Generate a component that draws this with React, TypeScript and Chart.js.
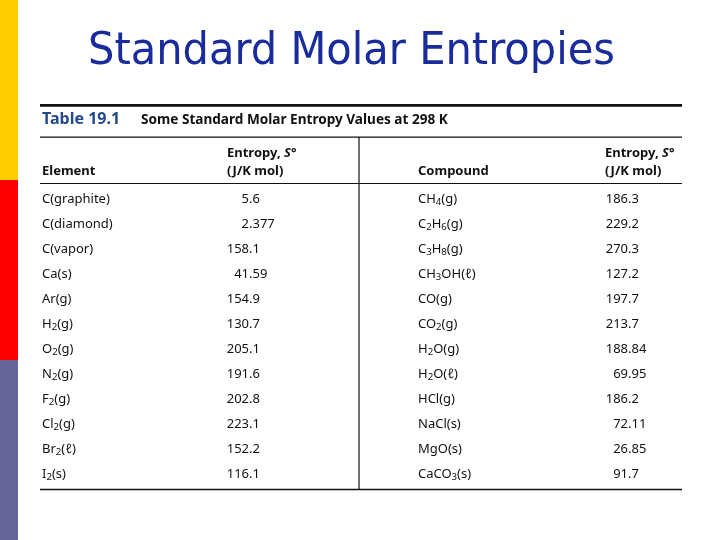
import React, { useEffect, useRef } from "react";
import { Chart, registerables } from "chart.js";

Chart.register(...registerables);

// ---------- content ----------
const TITLE = "Standard Molar Entropies";
const TABLE_LABEL = "Table 19.1";
const TABLE_CAPTION = "Some Standard Molar Entropy Values at 298 K";
const ELEMENT_HEADER = "Element";
const COMPOUND_HEADER = "Compound";
const ENTROPY_HEADER_1 = ["Entropy, ", "S", "°"];
const ENTROPY_HEADER_2 = "(J/K mol)";

// digits inside formulas are drawn as subscripts
const elements = [
  "C(graphite)", "C(diamond)", "C(vapor)", "Ca(s)", "Ar(g)", "H2(g)",
  "O2(g)", "N2(g)", "F2(g)", "Cl2(g)", "Br2(ℓ)", "I2(s)",
];
const elementEntropy = [5.6, 2.377, 158.1, 41.59, 154.9, 130.7, 205.1, 191.6, 202.8, 223.1, 152.2, 116.1];

const compounds = [
  "CH4(g)", "C2H6(g)", "C3H8(g)", "CH3OH(ℓ)", "CO(g)", "CO2(g)",
  "H2O(g)", "H2O(ℓ)", "HCl(g)", "NaCl(s)", "MgO(s)", "CaCO3(s)",
];
const compoundEntropy = [186.3, 229.2, 270.3, 127.2, 197.7, 213.7, 188.84, 69.95, 186.2, 72.11, 26.85, 91.7];

// ---------- layout (x in px from the table's left rule, y in row units) ----------
const TABLE_WIDTH = 642;
const COLS = { elementName: 2, caption: 101, elementValue: 209, entropyHead1: 187, divider: 319, compoundName: 378, compoundValue: 588, entropyHead2: 565 };
const ROWS = { topRule: -3.77, label: -3.19, captionRule: -2.5, head1: -1.86, head2: -1.14, headRule: -0.64, bottomRule: 11.62 };

const FONT = '"Noto Sans", "Open Sans", sans-serif';
const TEXT_COLOR = "#111111";
const LABEL_COLOR = "#234a8a";
const TITLE_COLOR = "#1a2c9c";
const STRIP = [
  { color: "#FFCC00", from: 0, to: 180 },
  { color: "#FF0000", from: 180, to: 360 },
  { color: "#666699", from: 360, to: 540 },
];

function drawFormula(ctx: CanvasRenderingContext2D, text: string, x: number, y: number, size: number, weight = "normal") {
  let cx = x;
  const runs: { t: string; sub: boolean }[] = [];
  for (const ch of text) {
    const sub = /[0-9]/.test(ch);
    const last = runs[runs.length - 1];
    if (last && last.sub === sub) last.t += ch;
    else runs.push({ t: ch, sub });
  }
  ctx.textAlign = "left";
  ctx.textBaseline = "middle";
  for (const r of runs) {
    const s = r.sub ? size * 0.74 : size;
    ctx.font = `${weight} ${s}px ${FONT}`;
    ctx.fillText(r.t, cx, r.sub ? y + size * 0.22 : y);
    cx += ctx.measureText(r.t).width;
  }
}

function drawDecimal(ctx: CanvasRenderingContext2D, value: number, decX: number, y: number, size: number) {
  const s = String(value);
  const intPart = s.split(".")[0];
  ctx.font = `normal ${size}px ${FONT}`;
  ctx.textAlign = "left";
  ctx.textBaseline = "middle";
  const w = ctx.measureText(intPart).width;
  ctx.fillText(s, decX - w, y);
}

const tablePlugin = {
  id: "entropyTable",
  beforeDraw(chart: any) {
    const { ctx, width, height } = chart;
    ctx.save();
    ctx.fillStyle = "#ffffff";
    ctx.fillRect(0, 0, width, height);
    for (const band of STRIP) {
      ctx.fillStyle = band.color;
      ctx.fillRect(0, band.from, 18, band.to - band.from);
    }
    // title
    ctx.font = `normal 44px "DejaVu Sans", sans-serif`;
    ctx.textBaseline = "alphabetic";
    ctx.textAlign = "left";
    const tw = ctx.measureText(TITLE).width;
    const targetW = 527;
    ctx.translate(88, 64);
    ctx.scale(targetW / tw, 1);
    ctx.fillStyle = TITLE_COLOR;
    ctx.fillText(TITLE, 0, 0);
    ctx.restore();
  },
  afterDatasetsDraw(chart: any) {
    const { ctx, scales } = chart;
    const x = scales.x, y = scales.y;
    const X = (v: number) => x.getPixelForValue(v);
    const Y = (v: number) => y.getPixelForValue(v);
    const left = X(0), right = X(TABLE_WIDTH);
    ctx.save();

    // rules
    ctx.strokeStyle = "#111111";
    const hline = (row: number, w: number) => {
      ctx.lineWidth = w;
      ctx.beginPath();
      ctx.moveTo(left, Y(row));
      ctx.lineTo(right, Y(row));
      ctx.stroke();
    };
    hline(ROWS.topRule, 2.6);
    hline(ROWS.captionRule, 1.2);
    hline(ROWS.headRule, 1.2);
    hline(ROWS.bottomRule, 1.4);
    ctx.lineWidth = 1.2;
    ctx.beginPath();
    ctx.moveTo(X(COLS.divider), Y(ROWS.captionRule));
    ctx.lineTo(X(COLS.divider), Y(ROWS.bottomRule));
    ctx.stroke();

    // caption
    ctx.textBaseline = "middle";
    ctx.textAlign = "left";
    ctx.fillStyle = LABEL_COLOR;
    ctx.font = `bold 16px ${FONT}`;
    ctx.fillText(TABLE_LABEL, X(COLS.elementName), Y(ROWS.label));
    ctx.fillStyle = TEXT_COLOR;
    ctx.font = `bold 13.6px ${FONT}`;
    ctx.fillText(TABLE_CAPTION, X(COLS.caption), Y(ROWS.label));

    // headers
    ctx.font = `bold 13px ${FONT}`;
    ctx.fillText(ELEMENT_HEADER, X(COLS.elementName), Y(ROWS.head2));
    ctx.fillText(COMPOUND_HEADER, X(COLS.compoundName), Y(ROWS.head2));
    for (const hx of [COLS.entropyHead1, COLS.entropyHead2]) {
      let cx = X(hx);
      ENTROPY_HEADER_1.forEach((part, i) => {
        ctx.font = `${i === 1 ? "italic " : ""}bold 13px ${FONT}`;
        ctx.fillText(part, cx, Y(ROWS.head1));
        cx += ctx.measureText(part).width;
      });
      ctx.font = `bold 13px ${FONT}`;
      ctx.fillText(ENTROPY_HEADER_2, X(hx), Y(ROWS.head2));
    }

    // body cells, positioned by the dataset points
    ctx.fillStyle = TEXT_COLOR;
    chart.data.datasets.forEach((ds: any, di: number) => {
      const meta = chart.getDatasetMeta(di);
      meta.data.forEach((pt: any, i: number) => {
        if (ds.kind === "name") drawFormula(ctx, ds.texts[i], pt.x, pt.y, 13);
        else drawDecimal(ctx, ds.texts[i], pt.x, pt.y, 13);
      });
    });
    ctx.restore();
  },
};

export default function App() {
  const ref = useRef<HTMLCanvasElement>(null);
  useEffect(() => {
    if (!ref.current) return;
    const mk = (texts: any[], kind: string, col: number, label: string) => ({
      label,
      kind,
      texts,
      data: texts.map((_, i) => ({ x: col, y: i })),
      pointRadius: 0,
      showLine: false,
    });
    const chart = new Chart(ref.current, {
      type: "scatter",
      data: {
        datasets: [
          mk(elements, "name", COLS.elementName, "Element"),
          mk(elementEntropy, "value", COLS.elementValue, "Element entropy"),
          mk(compounds, "name", COLS.compoundName, "Compound"),
          mk(compoundEntropy, "value", COLS.compoundValue, "Compound entropy"),
        ] as any,
      },
      options: {
        animation: false,
        responsive: false,
        events: [],
        layout: { padding: { left: 40, right: 38, top: 187, bottom: 53.5 } },
        scales: {
          x: { type: "linear", min: 0, max: TABLE_WIDTH, display: false },
          y: { type: "linear", min: -0.5, max: 11.5, reverse: true, display: false },
        },
        plugins: { legend: { display: false }, tooltip: { enabled: false }, title: { display: false } },
      },
      plugins: [tablePlugin],
    });
    return () => chart.destroy();
  }, []);
  return (
    <div style={{ position: "fixed", left: 0, top: 0, width: 720, height: 540, background: "#fff" }}>
      <canvas ref={ref} width={720} height={540} style={{ width: 720, height: 540, display: "block" }} />
    </div>
  );
}
